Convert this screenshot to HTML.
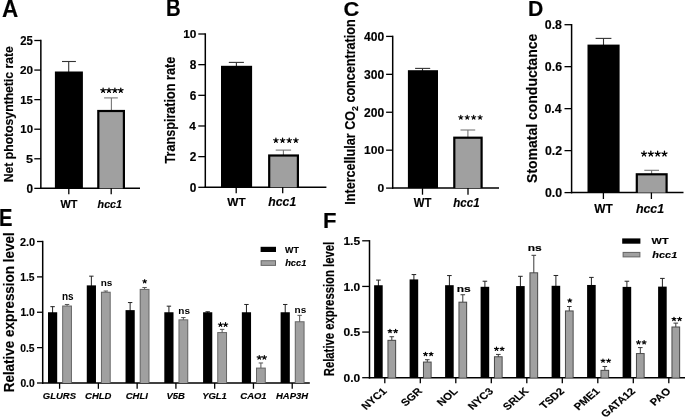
<!DOCTYPE html>
<html><head><meta charset="utf-8"><style>
html,body{margin:0;padding:0;background:#fff;width:685px;height:417px;overflow:hidden}
svg{display:block;will-change:transform}
text{font-family:"Liberation Sans", sans-serif;stroke:#000;stroke-width:0.15px}
</style></head><body>
<svg width="685" height="417" viewBox="0 0 685 417">
<rect x="0" y="0" width="685" height="417" fill="#fff"/>
<text transform="translate(2.04 16.50) scale(0.967 1)" font-size="23.27" font-weight="bold" fill="#000">A</text>
<line x1="40.85" y1="39.80" x2="40.85" y2="189.05" stroke="#000" stroke-width="1.5"/>
<line x1="40.15" y1="188.35" x2="140.00" y2="188.35" stroke="#000" stroke-width="1.5"/>
<line x1="34.30" y1="188.35" x2="40.85" y2="188.35" stroke="#000" stroke-width="1.3"/>
<text transform="translate(26.49 192.69) scale(0.969 1)" font-size="12.16" font-weight="bold" fill="#000">0</text>
<line x1="34.30" y1="158.78" x2="40.85" y2="158.78" stroke="#000" stroke-width="1.3"/>
<text transform="translate(25.92 163.06) scale(1.142 1)" font-size="11.01" font-weight="bold" fill="#000">5</text>
<line x1="34.30" y1="129.21" x2="40.85" y2="129.21" stroke="#000" stroke-width="1.3"/>
<text transform="translate(20.37 132.91) scale(1.074 1)" font-size="10.59" font-weight="bold" fill="#000">10</text>
<line x1="34.30" y1="99.64" x2="40.85" y2="99.64" stroke="#000" stroke-width="1.3"/>
<text transform="translate(20.22 103.84) scale(1.034 1)" font-size="11.01" font-weight="bold" fill="#000">15</text>
<line x1="34.30" y1="70.07" x2="40.85" y2="70.07" stroke="#000" stroke-width="1.3"/>
<text transform="translate(19.99 73.77) scale(1.108 1)" font-size="10.59" font-weight="bold" fill="#000">20</text>
<line x1="34.30" y1="40.50" x2="40.85" y2="40.50" stroke="#000" stroke-width="1.3"/>
<text transform="translate(20.23 44.60) scale(0.932 1)" font-size="12.20" font-weight="bold" fill="#000">25</text>
<line x1="68.70" y1="61.50" x2="68.70" y2="72.50" stroke="#333" stroke-width="1.1"/>
<line x1="62.00" y1="61.50" x2="75.90" y2="61.50" stroke="#333" stroke-width="1.1"/>
<rect x="54.90" y="71.50" width="28.00" height="116.85" fill="#000"/>
<line x1="68.80" y1="188.35" x2="68.80" y2="194.30" stroke="#000" stroke-width="1.3"/>
<text transform="translate(60.49 207.88) scale(1.070 1)" font-size="10.23" font-weight="bold" fill="#000">WT</text>
<line x1="111.40" y1="97.90" x2="111.40" y2="110.90" stroke="#777" stroke-width="1.1"/>
<line x1="104.10" y1="97.90" x2="117.80" y2="97.90" stroke="#777" stroke-width="1.1"/>
<rect x="97.20" y="109.90" width="27.80" height="78.45" fill="#000"/>
<rect x="99.40" y="112.10" width="23.40" height="76.25" fill="#a0a0a0"/>
<path d="M103.11 90.43L103.11 88.02M103.11 90.43L105.41 89.68M103.11 90.43L104.53 92.38M103.11 90.43L101.69 92.38M103.11 90.43L100.82 89.68M109.00 90.43L109.00 88.02M109.00 90.43L111.30 89.68M109.00 90.43L110.42 92.38M109.00 90.43L107.58 92.38M109.00 90.43L106.71 89.68M114.90 90.43L114.90 88.02M114.90 90.43L117.19 89.68M114.90 90.43L116.32 92.38M114.90 90.43L113.48 92.38M114.90 90.43L112.60 89.68M120.79 90.43L120.79 88.02M120.79 90.43L123.08 89.68M120.79 90.43L122.21 92.38M120.79 90.43L119.37 92.38M120.79 90.43L118.49 89.68" stroke="#000" stroke-width="1.23" stroke-linecap="round" stroke-linejoin="round" fill="none"/>
<line x1="111.20" y1="188.35" x2="111.20" y2="194.30" stroke="#000" stroke-width="1.3"/>
<text transform="translate(97.62 207.78) scale(1.048 1)" font-size="10.24" font-weight="bold" font-style="italic" fill="#000">hcc1</text>
<text transform="translate(12.90 182.22) scale(1.072 1) rotate(-90)" font-size="12.20" font-weight="bold">Net photosynthetic rate</text>
<text transform="translate(166.04 15.70) scale(0.859 1)" font-size="23.66" font-weight="bold" fill="#000">B</text>
<line x1="205.30" y1="33.30" x2="205.30" y2="188.00" stroke="#000" stroke-width="1.5"/>
<line x1="204.60" y1="187.30" x2="326.40" y2="187.30" stroke="#000" stroke-width="1.5"/>
<line x1="198.30" y1="187.30" x2="205.30" y2="187.30" stroke="#000" stroke-width="1.3"/>
<text transform="translate(189.78 191.80) scale(0.987 1)" font-size="12.03" font-weight="bold" fill="#000">0</text>
<line x1="198.30" y1="156.64" x2="205.30" y2="156.64" stroke="#000" stroke-width="1.3"/>
<text transform="translate(189.77 160.54) scale(0.965 1)" font-size="12.31" font-weight="bold" fill="#000">2</text>
<line x1="198.30" y1="125.98" x2="205.30" y2="125.98" stroke="#000" stroke-width="1.3"/>
<text transform="translate(189.36 129.88) scale(1.048 1)" font-size="11.34" font-weight="bold" fill="#000">4</text>
<line x1="198.30" y1="95.32" x2="205.30" y2="95.32" stroke="#000" stroke-width="1.3"/>
<text transform="translate(189.72 99.85) scale(0.984 1)" font-size="12.07" font-weight="bold" fill="#000">6</text>
<line x1="198.30" y1="64.66" x2="205.30" y2="64.66" stroke="#000" stroke-width="1.3"/>
<text transform="translate(189.66 69.02) scale(0.960 1)" font-size="12.37" font-weight="bold" fill="#000">8</text>
<line x1="198.30" y1="34.00" x2="205.30" y2="34.00" stroke="#000" stroke-width="1.3"/>
<text transform="translate(183.17 37.79) scale(1.078 1)" font-size="11.02" font-weight="bold" fill="#000">10</text>
<line x1="236.40" y1="62.40" x2="236.40" y2="66.80" stroke="#333" stroke-width="1.1"/>
<line x1="228.80" y1="62.40" x2="243.90" y2="62.40" stroke="#333" stroke-width="1.1"/>
<rect x="221.00" y="65.80" width="31.10" height="121.50" fill="#000"/>
<line x1="236.20" y1="187.30" x2="236.20" y2="193.20" stroke="#000" stroke-width="1.3"/>
<text transform="translate(227.27 205.50) scale(1.098 1)" font-size="10.76" font-weight="bold" fill="#000">WT</text>
<line x1="283.40" y1="150.10" x2="283.40" y2="155.40" stroke="#777" stroke-width="1.1"/>
<line x1="275.70" y1="150.10" x2="291.10" y2="150.10" stroke="#777" stroke-width="1.1"/>
<rect x="268.10" y="154.40" width="30.90" height="32.90" fill="#000"/>
<rect x="270.30" y="156.60" width="26.50" height="30.70" fill="#a0a0a0"/>
<path d="M275.91 140.42L275.91 138.09M275.91 140.42L278.12 139.70M275.91 140.42L277.28 142.31M275.91 140.42L274.54 142.31M275.91 140.42L273.69 139.70M282.57 140.42L282.57 138.09M282.57 140.42L284.78 139.70M282.57 140.42L283.94 142.31M282.57 140.42L281.20 142.31M282.57 140.42L280.36 139.70M289.23 140.42L289.23 138.09M289.23 140.42L291.44 139.70M289.23 140.42L290.60 142.31M289.23 140.42L287.86 142.31M289.23 140.42L287.02 139.70M295.89 140.42L295.89 138.09M295.89 140.42L298.11 139.70M295.89 140.42L297.26 142.31M295.89 140.42L294.52 142.31M295.89 140.42L293.68 139.70" stroke="#000" stroke-width="1.19" stroke-linecap="round" stroke-linejoin="round" fill="none"/>
<line x1="282.70" y1="187.30" x2="282.70" y2="193.20" stroke="#000" stroke-width="1.3"/>
<text transform="translate(268.29 205.92) scale(1.004 1)" font-size="12.20" font-weight="bold" font-style="italic" fill="#000">hcc1</text>
<text transform="translate(175.00 163.54) scale(1.149 1) rotate(-90)" font-size="12.65" font-weight="bold">Transpiration rate</text>
<text transform="translate(343.40 15.73) scale(1.097 1)" font-size="19.94" font-weight="bold" fill="#000">C</text>
<line x1="392.70" y1="35.70" x2="392.70" y2="188.80" stroke="#000" stroke-width="1.5"/>
<line x1="392.00" y1="188.10" x2="499.00" y2="188.10" stroke="#000" stroke-width="1.5"/>
<line x1="386.10" y1="188.10" x2="392.70" y2="188.10" stroke="#000" stroke-width="1.3"/>
<text transform="translate(377.47 191.89) scale(1.113 1)" font-size="10.88" font-weight="bold" fill="#000">0</text>
<line x1="386.10" y1="150.18" x2="392.70" y2="150.18" stroke="#000" stroke-width="1.3"/>
<text transform="translate(364.01 153.97) scale(1.113 1)" font-size="10.88" font-weight="bold" fill="#000">100</text>
<line x1="386.10" y1="112.25" x2="392.70" y2="112.25" stroke="#000" stroke-width="1.3"/>
<text transform="translate(364.01 116.69) scale(0.959 1)" font-size="12.61" font-weight="bold" fill="#000">200</text>
<line x1="386.10" y1="74.33" x2="392.70" y2="74.33" stroke="#000" stroke-width="1.3"/>
<text transform="translate(364.01 78.84) scale(1.016 1)" font-size="11.91" font-weight="bold" fill="#000">300</text>
<line x1="386.10" y1="36.40" x2="392.70" y2="36.40" stroke="#000" stroke-width="1.3"/>
<text transform="translate(364.01 40.60) scale(0.996 1)" font-size="12.15" font-weight="bold" fill="#000">400</text>
<line x1="422.50" y1="68.40" x2="422.50" y2="71.20" stroke="#333" stroke-width="1.1"/>
<line x1="415.10" y1="68.40" x2="430.20" y2="68.40" stroke="#333" stroke-width="1.1"/>
<rect x="407.90" y="70.20" width="30.10" height="117.90" fill="#000"/>
<line x1="422.50" y1="188.10" x2="422.50" y2="194.70" stroke="#000" stroke-width="1.3"/>
<text transform="translate(413.79 206.50) scale(0.940 1)" font-size="12.06" font-weight="bold" fill="#000">WT</text>
<line x1="467.90" y1="130.00" x2="467.90" y2="137.60" stroke="#777" stroke-width="1.1"/>
<line x1="460.50" y1="130.00" x2="475.20" y2="130.00" stroke="#777" stroke-width="1.1"/>
<rect x="453.20" y="136.60" width="29.50" height="51.50" fill="#000"/>
<rect x="455.40" y="138.80" width="25.10" height="49.30" fill="#a0a0a0"/>
<path d="M460.80 117.41L460.80 115.25M460.80 117.41L462.85 116.74M460.80 117.41L462.07 119.15M460.80 117.41L459.53 119.15M460.80 117.41L458.75 116.74M467.23 117.41L467.23 115.25M467.23 117.41L469.28 116.74M467.23 117.41L468.50 119.15M467.23 117.41L465.97 119.15M467.23 117.41L465.18 116.74M473.67 117.41L473.67 115.25M473.67 117.41L475.72 116.74M473.67 117.41L474.93 119.15M473.67 117.41L472.40 119.15M473.67 117.41L471.62 116.74M480.10 117.41L480.10 115.25M480.10 117.41L482.15 116.74M480.10 117.41L481.37 119.15M480.10 117.41L478.83 119.15M480.10 117.41L478.05 116.74" stroke="#000" stroke-width="1.10" stroke-linecap="round" stroke-linejoin="round" fill="none"/>
<line x1="468.00" y1="188.10" x2="468.00" y2="194.70" stroke="#000" stroke-width="1.3"/>
<text transform="translate(453.30 206.83) scale(0.969 1)" font-size="11.91" font-weight="bold" font-style="italic" fill="#000">hcc1</text>
<text transform="translate(354.7 204.74) scale(1.1 1) rotate(-90)" font-size="12.6" font-weight="bold">Intercellular CO<tspan font-size="8.82" dy="3.15">2</tspan><tspan dy="-3.15"> concentration</tspan></text>
<text transform="translate(527.98 16.00) scale(0.980 1)" font-size="21.63" font-weight="bold" fill="#000">D</text>
<line x1="571.60" y1="24.00" x2="571.60" y2="193.30" stroke="#000" stroke-width="1.5"/>
<line x1="570.90" y1="192.60" x2="683.50" y2="192.60" stroke="#000" stroke-width="1.5"/>
<line x1="564.50" y1="192.60" x2="571.60" y2="192.60" stroke="#000" stroke-width="1.3"/>
<text transform="translate(544.92 196.88) scale(1.018 1)" font-size="12.15" font-weight="bold" fill="#000">0.0</text>
<line x1="564.50" y1="150.62" x2="571.60" y2="150.62" stroke="#000" stroke-width="1.3"/>
<text transform="translate(544.91 154.91) scale(1.018 1)" font-size="12.15" font-weight="bold" fill="#000">0.2</text>
<line x1="564.50" y1="108.65" x2="571.60" y2="108.65" stroke="#000" stroke-width="1.3"/>
<text transform="translate(544.48 112.93) scale(1.018 1)" font-size="12.15" font-weight="bold" fill="#000">0.4</text>
<line x1="564.50" y1="66.67" x2="571.60" y2="66.67" stroke="#000" stroke-width="1.3"/>
<text transform="translate(544.86 70.96) scale(1.018 1)" font-size="12.15" font-weight="bold" fill="#000">0.6</text>
<line x1="564.50" y1="24.70" x2="571.60" y2="24.70" stroke="#000" stroke-width="1.3"/>
<text transform="translate(544.80 28.98) scale(1.018 1)" font-size="12.15" font-weight="bold" fill="#000">0.8</text>
<line x1="603.50" y1="38.40" x2="603.50" y2="45.60" stroke="#333" stroke-width="1.1"/>
<line x1="595.60" y1="38.40" x2="611.40" y2="38.40" stroke="#333" stroke-width="1.1"/>
<rect x="587.50" y="44.60" width="32.10" height="148.00" fill="#000"/>
<line x1="603.40" y1="192.60" x2="603.40" y2="199.00" stroke="#000" stroke-width="1.3"/>
<text transform="translate(594.19 212.90) scale(1.001 1)" font-size="11.92" font-weight="bold" fill="#000">WT</text>
<line x1="651.60" y1="170.30" x2="651.60" y2="174.20" stroke="#777" stroke-width="1.1"/>
<line x1="644.30" y1="170.30" x2="659.00" y2="170.30" stroke="#777" stroke-width="1.1"/>
<rect x="635.70" y="173.20" width="32.00" height="19.40" fill="#000"/>
<rect x="637.90" y="175.40" width="27.60" height="17.20" fill="#a0a0a0"/>
<path d="M644.02 153.85L644.02 151.26M644.02 153.85L646.48 153.05M644.02 153.85L645.54 155.94M644.02 153.85L642.50 155.94M644.02 153.85L641.56 153.05M650.84 153.85L650.84 151.26M650.84 153.85L653.30 153.05M650.84 153.85L652.36 155.94M650.84 153.85L649.32 155.94M650.84 153.85L648.38 153.05M657.66 153.85L657.66 151.26M657.66 153.85L660.12 153.05M657.66 153.85L659.18 155.94M657.66 153.85L656.14 155.94M657.66 153.85L655.20 153.05M664.48 153.85L664.48 151.26M664.48 153.85L666.94 153.05M664.48 153.85L666.00 155.94M664.48 153.85L662.96 155.94M664.48 153.85L662.02 153.05" stroke="#000" stroke-width="1.32" stroke-linecap="round" stroke-linejoin="round" fill="none"/>
<line x1="651.40" y1="192.60" x2="651.40" y2="199.00" stroke="#000" stroke-width="1.3"/>
<text transform="translate(635.89 212.78) scale(1.001 1)" font-size="12.39" font-weight="bold" font-style="italic" fill="#000">hcc1</text>
<text transform="translate(537.20 182.90) scale(1.112 1) rotate(-90)" font-size="13.99" font-weight="bold">Stomatal conductance</text>
<text transform="translate(-1.07 225.50) scale(0.875 1)" font-size="23.07" font-weight="bold" fill="#000">E</text>
<line x1="42.70" y1="240.80" x2="42.70" y2="383.80" stroke="#000" stroke-width="1.5"/>
<line x1="42.00" y1="383.00" x2="309.80" y2="383.00" stroke="#000" stroke-width="1.65"/>
<line x1="37.00" y1="383.00" x2="42.70" y2="383.00" stroke="#000" stroke-width="1.3"/>
<text transform="translate(20.40 386.80) scale(0.985 1)" font-size="10.45" font-weight="bold" fill="#000">0.0</text>
<line x1="37.00" y1="347.62" x2="42.70" y2="347.62" stroke="#000" stroke-width="1.3"/>
<text transform="translate(20.27 351.88) scale(0.972 1)" font-size="10.59" font-weight="bold" fill="#000">0.5</text>
<line x1="37.00" y1="312.25" x2="42.70" y2="312.25" stroke="#000" stroke-width="1.3"/>
<text transform="translate(20.40 316.05) scale(0.985 1)" font-size="10.45" font-weight="bold" fill="#000">1.0</text>
<line x1="37.00" y1="276.88" x2="42.70" y2="276.88" stroke="#000" stroke-width="1.3"/>
<text transform="translate(20.27 280.67) scale(0.971 1)" font-size="10.61" font-weight="bold" fill="#000">1.5</text>
<line x1="37.00" y1="241.50" x2="42.70" y2="241.50" stroke="#000" stroke-width="1.3"/>
<text transform="translate(20.00 245.78) scale(1.027 1)" font-size="10.62" font-weight="bold" fill="#000">2.0</text>
<line x1="52.60" y1="306.66" x2="52.60" y2="313.25" stroke="#222" stroke-width="1.0"/>
<line x1="50.40" y1="306.66" x2="54.80" y2="306.66" stroke="#222" stroke-width="1.0"/>
<rect x="48.00" y="312.25" width="9.20" height="70.75" fill="#000"/>
<line x1="67.05" y1="304.47" x2="67.05" y2="306.53" stroke="#555" stroke-width="1.0"/>
<line x1="64.85" y1="304.47" x2="69.25" y2="304.47" stroke="#555" stroke-width="1.0"/>
<rect x="62.15" y="305.53" width="9.80" height="77.47" fill="#666"/>
<rect x="63.15" y="306.53" width="7.80" height="76.47" fill="#a0a0a0"/>
<text transform="translate(61.99 299.69) scale(0.929 1)" font-size="10.76" font-weight="bold" fill="#000" style="stroke:none">ns</text>
<line x1="59.60" y1="383.00" x2="59.60" y2="388.80" stroke="#000" stroke-width="1.3"/>
<text transform="translate(42.81 399.20) scale(0.974 1)" font-size="9.75" font-weight="bold" font-style="italic" fill="#000">GLURS</text>
<line x1="91.37" y1="276.17" x2="91.37" y2="286.37" stroke="#222" stroke-width="1.0"/>
<line x1="89.17" y1="276.17" x2="93.57" y2="276.17" stroke="#222" stroke-width="1.0"/>
<rect x="86.77" y="285.37" width="9.20" height="97.63" fill="#000"/>
<line x1="105.82" y1="291.02" x2="105.82" y2="292.73" stroke="#555" stroke-width="1.0"/>
<line x1="103.62" y1="291.02" x2="108.02" y2="291.02" stroke="#555" stroke-width="1.0"/>
<rect x="100.92" y="291.73" width="9.80" height="91.27" fill="#666"/>
<rect x="101.92" y="292.73" width="7.80" height="90.27" fill="#a0a0a0"/>
<text transform="translate(100.76 286.41) scale(1.097 1)" font-size="9.12" font-weight="bold" fill="#000" style="stroke:none">ns</text>
<line x1="98.37" y1="383.00" x2="98.37" y2="388.80" stroke="#000" stroke-width="1.3"/>
<text transform="translate(85.09 399.20) scale(0.974 1)" font-size="9.75" font-weight="bold" font-style="italic" fill="#000">CHLD</text>
<line x1="130.14" y1="302.56" x2="130.14" y2="311.13" stroke="#222" stroke-width="1.0"/>
<line x1="127.94" y1="302.56" x2="132.34" y2="302.56" stroke="#222" stroke-width="1.0"/>
<rect x="125.54" y="310.13" width="9.20" height="72.87" fill="#000"/>
<line x1="144.59" y1="287.49" x2="144.59" y2="289.90" stroke="#555" stroke-width="1.0"/>
<line x1="142.39" y1="287.49" x2="146.79" y2="287.49" stroke="#555" stroke-width="1.0"/>
<rect x="139.69" y="288.90" width="9.80" height="94.10" fill="#666"/>
<rect x="140.69" y="289.90" width="7.80" height="93.10" fill="#a0a0a0"/>
<path d="M144.69 281.38L144.69 279.53M144.69 281.38L146.62 280.81M144.69 281.38L145.89 282.87M144.69 281.38L143.49 282.87M144.69 281.38L142.76 280.81" stroke="#000" stroke-width="1.06" stroke-linecap="round" stroke-linejoin="round" fill="none"/>
<line x1="137.14" y1="383.00" x2="137.14" y2="388.80" stroke="#000" stroke-width="1.3"/>
<text transform="translate(125.75 399.20) scale(0.974 1)" font-size="9.75" font-weight="bold" font-style="italic" fill="#000">CHLI</text>
<line x1="168.91" y1="306.17" x2="168.91" y2="313.25" stroke="#222" stroke-width="1.0"/>
<line x1="166.71" y1="306.17" x2="171.11" y2="306.17" stroke="#222" stroke-width="1.0"/>
<rect x="164.31" y="312.25" width="9.20" height="70.75" fill="#000"/>
<line x1="183.36" y1="317.56" x2="183.36" y2="320.32" stroke="#555" stroke-width="1.0"/>
<line x1="181.16" y1="317.56" x2="185.56" y2="317.56" stroke="#555" stroke-width="1.0"/>
<rect x="178.46" y="319.32" width="9.80" height="63.68" fill="#666"/>
<rect x="179.46" y="320.32" width="7.80" height="62.68" fill="#a0a0a0"/>
<text transform="translate(178.30 313.61) scale(1.097 1)" font-size="9.12" font-weight="bold" fill="#000" style="stroke:none">ns</text>
<line x1="175.91" y1="383.00" x2="175.91" y2="388.80" stroke="#000" stroke-width="1.3"/>
<text transform="translate(166.46 399.20) scale(0.960 1)" font-size="9.89" font-weight="bold" font-style="italic" fill="#000">V5B</text>
<line x1="207.68" y1="311.75" x2="207.68" y2="313.25" stroke="#222" stroke-width="1.0"/>
<line x1="205.48" y1="311.75" x2="209.88" y2="311.75" stroke="#222" stroke-width="1.0"/>
<rect x="203.08" y="312.25" width="9.20" height="70.75" fill="#000"/>
<line x1="222.13" y1="329.37" x2="222.13" y2="333.06" stroke="#555" stroke-width="1.0"/>
<line x1="219.93" y1="329.37" x2="224.33" y2="329.37" stroke="#555" stroke-width="1.0"/>
<rect x="217.23" y="332.06" width="9.80" height="50.94" fill="#666"/>
<rect x="218.23" y="333.06" width="7.80" height="49.94" fill="#a0a0a0"/>
<path d="M220.47 324.69L220.47 322.68M220.47 324.69L222.58 324.07M220.47 324.69L221.77 326.32M220.47 324.69L219.16 326.32M220.47 324.69L218.36 324.07M225.59 324.69L225.59 322.68M225.59 324.69L227.70 324.07M225.59 324.69L226.90 326.32M225.59 324.69L224.29 326.32M225.59 324.69L223.48 324.07" stroke="#000" stroke-width="1.15" stroke-linecap="round" stroke-linejoin="round" fill="none"/>
<line x1="214.68" y1="383.00" x2="214.68" y2="388.80" stroke="#000" stroke-width="1.3"/>
<text transform="translate(202.14 399.21) scale(0.973 1)" font-size="9.75" font-weight="bold" font-style="italic" fill="#000">YGL1</text>
<line x1="246.45" y1="304.47" x2="246.45" y2="313.25" stroke="#222" stroke-width="1.0"/>
<line x1="244.25" y1="304.47" x2="248.65" y2="304.47" stroke="#222" stroke-width="1.0"/>
<rect x="241.85" y="312.25" width="9.20" height="70.75" fill="#000"/>
<line x1="260.90" y1="362.98" x2="260.90" y2="368.58" stroke="#555" stroke-width="1.0"/>
<line x1="258.70" y1="362.98" x2="263.10" y2="362.98" stroke="#555" stroke-width="1.0"/>
<rect x="256.00" y="367.58" width="9.80" height="15.42" fill="#666"/>
<rect x="257.00" y="368.58" width="7.80" height="14.42" fill="#a0a0a0"/>
<path d="M259.24 357.49L259.24 355.48M259.24 357.49L261.35 356.87M259.24 357.49L260.54 359.12M259.24 357.49L257.93 359.12M259.24 357.49L257.13 356.87M264.36 357.49L264.36 355.48M264.36 357.49L266.47 356.87M264.36 357.49L265.67 359.12M264.36 357.49L263.06 359.12M264.36 357.49L262.25 356.87" stroke="#000" stroke-width="1.15" stroke-linecap="round" stroke-linejoin="round" fill="none"/>
<line x1="253.45" y1="383.00" x2="253.45" y2="388.80" stroke="#000" stroke-width="1.3"/>
<text transform="translate(240.29 399.20) scale(0.974 1)" font-size="9.75" font-weight="bold" font-style="italic" fill="#000">CAO1</text>
<line x1="285.22" y1="304.47" x2="285.22" y2="313.25" stroke="#222" stroke-width="1.0"/>
<line x1="283.02" y1="304.47" x2="287.42" y2="304.47" stroke="#222" stroke-width="1.0"/>
<rect x="280.62" y="312.25" width="9.20" height="70.75" fill="#000"/>
<line x1="299.67" y1="315.36" x2="299.67" y2="322.24" stroke="#555" stroke-width="1.0"/>
<line x1="297.47" y1="315.36" x2="301.87" y2="315.36" stroke="#555" stroke-width="1.0"/>
<rect x="294.77" y="321.24" width="9.80" height="61.76" fill="#666"/>
<rect x="295.77" y="322.24" width="7.80" height="60.76" fill="#a0a0a0"/>
<text transform="translate(294.61 312.81) scale(1.097 1)" font-size="9.12" font-weight="bold" fill="#000" style="stroke:none">ns</text>
<line x1="292.22" y1="383.00" x2="292.22" y2="388.80" stroke="#000" stroke-width="1.3"/>
<text transform="translate(275.97 399.20) scale(0.974 1)" font-size="9.75" font-weight="bold" font-style="italic" fill="#000">HAP3H</text>
<text transform="translate(14.10 392.30) scale(1.123 1) rotate(-90)" font-size="13.45" font-weight="bold">Relative expression level</text>
<rect x="260.60" y="246.80" width="15.40" height="5.20" fill="#000"/>
<rect x="260.60" y="260.20" width="15.40" height="5.70" fill="#666"/>
<rect x="261.60" y="261.20" width="13.40" height="3.70" fill="#a0a0a0"/>
<text transform="translate(284.99 252.60) scale(0.948 1)" font-size="9.43" font-weight="bold" fill="#000">WT</text>
<text transform="translate(285.14 266.31) scale(0.969 1)" font-size="9.67" font-weight="bold" font-style="italic" fill="#000">hcc1</text>
<text transform="translate(322.92 227.90) scale(1.028 1)" font-size="21.48" font-weight="bold" fill="#000">F</text>
<line x1="369.50" y1="240.10" x2="369.50" y2="378.50" stroke="#000" stroke-width="1.5"/>
<line x1="368.80" y1="377.70" x2="685.00" y2="377.70" stroke="#000" stroke-width="1.65"/>
<line x1="362.20" y1="377.70" x2="369.50" y2="377.70" stroke="#000" stroke-width="1.3"/>
<text transform="translate(343.61 381.84) scale(1.055 1)" font-size="11.37" font-weight="bold" fill="#000">0.0</text>
<line x1="362.20" y1="332.07" x2="369.50" y2="332.07" stroke="#000" stroke-width="1.3"/>
<text transform="translate(343.45 335.77) scale(1.197 1)" font-size="10.03" font-weight="bold" fill="#000">0.5</text>
<line x1="362.20" y1="286.43" x2="369.50" y2="286.43" stroke="#000" stroke-width="1.3"/>
<text transform="translate(343.61 290.76) scale(1.062 1)" font-size="11.30" font-weight="bold" fill="#000">1.0</text>
<line x1="362.20" y1="240.80" x2="369.50" y2="240.80" stroke="#000" stroke-width="1.3"/>
<text transform="translate(343.45 244.50) scale(1.179 1)" font-size="10.18" font-weight="bold" fill="#000">1.5</text>
<line x1="378.40" y1="280.09" x2="378.40" y2="286.25" stroke="#222" stroke-width="1.0"/>
<line x1="376.10" y1="280.09" x2="380.70" y2="280.09" stroke="#222" stroke-width="1.0"/>
<rect x="374.10" y="285.25" width="8.60" height="92.45" fill="#000"/>
<line x1="391.80" y1="336.72" x2="391.80" y2="340.82" stroke="#3a3a3a" stroke-width="1.0"/>
<line x1="389.50" y1="336.72" x2="394.10" y2="336.72" stroke="#3a3a3a" stroke-width="1.0"/>
<rect x="387.45" y="339.82" width="8.70" height="37.88" fill="#4a4a4a"/>
<rect x="388.45" y="340.82" width="6.70" height="36.88" fill="#a0a0a0"/>
<path d="M389.98 331.17L389.98 329.42M389.98 331.17L391.90 330.63M389.98 331.17L391.17 332.58M389.98 331.17L388.80 332.58M389.98 331.17L388.07 330.63M395.62 331.17L395.62 329.42M395.62 331.17L397.53 330.63M395.62 331.17L396.80 332.58M395.62 331.17L394.43 332.58M395.62 331.17L393.70 330.63" stroke="#000" stroke-width="1.23" stroke-linecap="round" stroke-linejoin="round" fill="none"/>
<line x1="384.80" y1="377.70" x2="384.80" y2="383.20" stroke="#000" stroke-width="1.3"/>
<text transform="translate(387.40 391.80) scale(1.16 1) rotate(-45)" font-size="9.8" font-weight="bold" text-anchor="end">NYC1</text>
<line x1="413.90" y1="274.57" x2="413.90" y2="280.41" stroke="#222" stroke-width="1.0"/>
<line x1="411.60" y1="274.57" x2="416.20" y2="274.57" stroke="#222" stroke-width="1.0"/>
<rect x="409.60" y="279.41" width="8.60" height="98.29" fill="#000"/>
<line x1="427.30" y1="359.72" x2="427.30" y2="362.55" stroke="#3a3a3a" stroke-width="1.0"/>
<line x1="425.00" y1="359.72" x2="429.60" y2="359.72" stroke="#3a3a3a" stroke-width="1.0"/>
<rect x="422.95" y="361.55" width="8.70" height="16.15" fill="#4a4a4a"/>
<rect x="423.95" y="362.55" width="6.70" height="15.15" fill="#a0a0a0"/>
<path d="M425.48 354.07L425.48 352.32M425.48 354.07L427.40 353.53M425.48 354.07L426.67 355.48M425.48 354.07L424.30 355.48M425.48 354.07L423.57 353.53M431.12 354.07L431.12 352.32M431.12 354.07L433.03 353.53M431.12 354.07L432.30 355.48M431.12 354.07L429.93 355.48M431.12 354.07L429.20 353.53" stroke="#000" stroke-width="1.23" stroke-linecap="round" stroke-linejoin="round" fill="none"/>
<line x1="420.30" y1="377.70" x2="420.30" y2="383.20" stroke="#000" stroke-width="1.3"/>
<text transform="translate(422.90 391.80) scale(1.16 1) rotate(-45)" font-size="9.8" font-weight="bold" text-anchor="end">SGR</text>
<line x1="449.40" y1="275.57" x2="449.40" y2="286.20" stroke="#222" stroke-width="1.0"/>
<line x1="447.10" y1="275.57" x2="451.70" y2="275.57" stroke="#222" stroke-width="1.0"/>
<rect x="445.10" y="285.20" width="8.60" height="92.50" fill="#000"/>
<line x1="462.80" y1="294.74" x2="462.80" y2="302.67" stroke="#3a3a3a" stroke-width="1.0"/>
<line x1="460.50" y1="294.74" x2="465.10" y2="294.74" stroke="#3a3a3a" stroke-width="1.0"/>
<rect x="458.45" y="301.67" width="8.70" height="76.03" fill="#4a4a4a"/>
<rect x="459.45" y="302.67" width="6.70" height="75.03" fill="#a0a0a0"/>
<text transform="translate(456.66 291.91) scale(1.314 1)" font-size="9.12" font-weight="bold" fill="#000">ns</text>
<line x1="455.80" y1="377.70" x2="455.80" y2="383.20" stroke="#000" stroke-width="1.3"/>
<text transform="translate(458.40 391.80) scale(1.16 1) rotate(-45)" font-size="9.8" font-weight="bold" text-anchor="end">NOL</text>
<line x1="484.90" y1="281.23" x2="484.90" y2="287.80" stroke="#222" stroke-width="1.0"/>
<line x1="482.60" y1="281.23" x2="487.20" y2="281.23" stroke="#222" stroke-width="1.0"/>
<rect x="480.60" y="286.80" width="8.60" height="90.90" fill="#000"/>
<line x1="498.30" y1="354.43" x2="498.30" y2="357.25" stroke="#3a3a3a" stroke-width="1.0"/>
<line x1="496.00" y1="354.43" x2="500.60" y2="354.43" stroke="#3a3a3a" stroke-width="1.0"/>
<rect x="493.95" y="356.25" width="8.70" height="21.45" fill="#4a4a4a"/>
<rect x="494.95" y="357.25" width="6.70" height="20.45" fill="#a0a0a0"/>
<path d="M496.48 348.97L496.48 347.22M496.48 348.97L498.40 348.43M496.48 348.97L497.67 350.38M496.48 348.97L495.30 350.38M496.48 348.97L494.57 348.43M502.12 348.97L502.12 347.22M502.12 348.97L504.03 348.43M502.12 348.97L503.30 350.38M502.12 348.97L500.93 350.38M502.12 348.97L500.20 348.43" stroke="#000" stroke-width="1.23" stroke-linecap="round" stroke-linejoin="round" fill="none"/>
<line x1="491.30" y1="377.70" x2="491.30" y2="383.20" stroke="#000" stroke-width="1.3"/>
<text transform="translate(493.90 391.80) scale(1.16 1) rotate(-45)" font-size="9.8" font-weight="bold" text-anchor="end">NYC3</text>
<line x1="520.40" y1="276.30" x2="520.40" y2="287.07" stroke="#222" stroke-width="1.0"/>
<line x1="518.10" y1="276.30" x2="522.70" y2="276.30" stroke="#222" stroke-width="1.0"/>
<rect x="516.10" y="286.07" width="8.60" height="91.63" fill="#000"/>
<line x1="533.80" y1="255.31" x2="533.80" y2="273.29" stroke="#3a3a3a" stroke-width="1.0"/>
<line x1="531.50" y1="255.31" x2="536.10" y2="255.31" stroke="#3a3a3a" stroke-width="1.0"/>
<rect x="529.45" y="272.29" width="8.70" height="105.41" fill="#4a4a4a"/>
<rect x="530.45" y="273.29" width="6.70" height="104.41" fill="#a0a0a0"/>
<text transform="translate(527.66 250.91) scale(1.314 1)" font-size="9.12" font-weight="bold" fill="#000">ns</text>
<line x1="526.80" y1="377.70" x2="526.80" y2="383.20" stroke="#000" stroke-width="1.3"/>
<text transform="translate(529.40 391.80) scale(1.16 1) rotate(-45)" font-size="9.8" font-weight="bold" text-anchor="end">SRLK</text>
<line x1="555.90" y1="275.48" x2="555.90" y2="286.79" stroke="#222" stroke-width="1.0"/>
<line x1="553.60" y1="275.48" x2="558.20" y2="275.48" stroke="#222" stroke-width="1.0"/>
<rect x="551.60" y="285.79" width="8.60" height="91.91" fill="#000"/>
<line x1="569.30" y1="306.51" x2="569.30" y2="311.44" stroke="#3a3a3a" stroke-width="1.0"/>
<line x1="567.00" y1="306.51" x2="571.60" y2="306.51" stroke="#3a3a3a" stroke-width="1.0"/>
<rect x="564.95" y="310.44" width="8.70" height="67.26" fill="#4a4a4a"/>
<rect x="565.95" y="311.44" width="6.70" height="66.26" fill="#a0a0a0"/>
<path d="M569.80 300.57L569.80 298.82M569.80 300.57L571.72 300.03M569.80 300.57L570.98 301.98M569.80 300.57L568.62 301.98M569.80 300.57L567.88 300.03" stroke="#000" stroke-width="1.23" stroke-linecap="round" stroke-linejoin="round" fill="none"/>
<line x1="562.30" y1="377.70" x2="562.30" y2="383.20" stroke="#000" stroke-width="1.3"/>
<text transform="translate(564.90 391.80) scale(1.16 1) rotate(-45)" font-size="9.8" font-weight="bold" text-anchor="end">TSD2</text>
<line x1="591.40" y1="277.40" x2="591.40" y2="285.97" stroke="#222" stroke-width="1.0"/>
<line x1="589.10" y1="277.40" x2="593.70" y2="277.40" stroke="#222" stroke-width="1.0"/>
<rect x="587.10" y="284.97" width="8.60" height="92.73" fill="#000"/>
<line x1="604.80" y1="366.47" x2="604.80" y2="370.85" stroke="#3a3a3a" stroke-width="1.0"/>
<line x1="602.50" y1="366.47" x2="607.10" y2="366.47" stroke="#3a3a3a" stroke-width="1.0"/>
<rect x="600.45" y="369.85" width="8.70" height="7.85" fill="#4a4a4a"/>
<rect x="601.45" y="370.85" width="6.70" height="6.85" fill="#a0a0a0"/>
<path d="M602.98 360.77L602.98 359.02M602.98 360.77L604.90 360.23M602.98 360.77L604.17 362.18M602.98 360.77L601.80 362.18M602.98 360.77L601.07 360.23M608.62 360.77L608.62 359.02M608.62 360.77L610.53 360.23M608.62 360.77L609.80 362.18M608.62 360.77L607.43 362.18M608.62 360.77L606.70 360.23" stroke="#000" stroke-width="1.23" stroke-linecap="round" stroke-linejoin="round" fill="none"/>
<line x1="597.80" y1="377.70" x2="597.80" y2="383.20" stroke="#000" stroke-width="1.3"/>
<text transform="translate(600.40 391.80) scale(1.16 1) rotate(-45)" font-size="9.8" font-weight="bold" text-anchor="end">PME1</text>
<line x1="626.90" y1="281.23" x2="626.90" y2="287.89" stroke="#222" stroke-width="1.0"/>
<line x1="624.60" y1="281.23" x2="629.20" y2="281.23" stroke="#222" stroke-width="1.0"/>
<rect x="622.60" y="286.89" width="8.60" height="90.81" fill="#000"/>
<line x1="640.30" y1="347.58" x2="640.30" y2="354.06" stroke="#3a3a3a" stroke-width="1.0"/>
<line x1="638.00" y1="347.58" x2="642.60" y2="347.58" stroke="#3a3a3a" stroke-width="1.0"/>
<rect x="635.95" y="353.06" width="8.70" height="24.64" fill="#4a4a4a"/>
<rect x="636.95" y="354.06" width="6.70" height="23.64" fill="#a0a0a0"/>
<path d="M638.48 342.47L638.48 340.72M638.48 342.47L640.40 341.93M638.48 342.47L639.67 343.88M638.48 342.47L637.30 343.88M638.48 342.47L636.57 341.93M644.12 342.47L644.12 340.72M644.12 342.47L646.03 341.93M644.12 342.47L645.30 343.88M644.12 342.47L642.93 343.88M644.12 342.47L642.20 341.93" stroke="#000" stroke-width="1.23" stroke-linecap="round" stroke-linejoin="round" fill="none"/>
<line x1="633.30" y1="377.70" x2="633.30" y2="383.20" stroke="#000" stroke-width="1.3"/>
<text transform="translate(635.90 391.80) scale(1.16 1) rotate(-45)" font-size="9.8" font-weight="bold" text-anchor="end">GATA12</text>
<line x1="662.40" y1="278.40" x2="662.40" y2="287.62" stroke="#222" stroke-width="1.0"/>
<line x1="660.10" y1="278.40" x2="664.70" y2="278.40" stroke="#222" stroke-width="1.0"/>
<rect x="658.10" y="286.62" width="8.60" height="91.08" fill="#000"/>
<line x1="675.80" y1="323.12" x2="675.80" y2="327.50" stroke="#3a3a3a" stroke-width="1.0"/>
<line x1="673.50" y1="323.12" x2="678.10" y2="323.12" stroke="#3a3a3a" stroke-width="1.0"/>
<rect x="671.45" y="326.50" width="8.70" height="51.20" fill="#4a4a4a"/>
<rect x="672.45" y="327.50" width="6.70" height="50.20" fill="#a0a0a0"/>
<path d="M673.98 319.07L673.98 317.32M673.98 319.07L675.90 318.53M673.98 319.07L675.17 320.48M673.98 319.07L672.80 320.48M673.98 319.07L672.07 318.53M679.62 319.07L679.62 317.32M679.62 319.07L681.53 318.53M679.62 319.07L680.80 320.48M679.62 319.07L678.43 320.48M679.62 319.07L677.70 318.53" stroke="#000" stroke-width="1.23" stroke-linecap="round" stroke-linejoin="round" fill="none"/>
<line x1="668.80" y1="377.70" x2="668.80" y2="383.20" stroke="#000" stroke-width="1.3"/>
<text transform="translate(671.40 391.80) scale(1.16 1) rotate(-45)" font-size="9.8" font-weight="bold" text-anchor="end">PAO</text>
<text transform="translate(334.30 376.26) scale(1.285 1) rotate(-90)" font-size="11.31" font-weight="bold">Relative expression level</text>
<rect x="622.20" y="238.40" width="18.20" height="5.30" fill="#000"/>
<rect x="622.60" y="251.90" width="17.80" height="5.50" fill="#666"/>
<rect x="623.60" y="252.90" width="15.80" height="3.50" fill="#a0a0a0"/>
<text transform="translate(651.59 243.90) scale(1.269 1)" font-size="8.63" font-weight="bold" fill="#000">WT</text>
<text transform="translate(652.31 257.63) scale(1.219 1)" font-size="8.99" font-weight="bold" font-style="italic" fill="#000">hcc1</text>
</svg>
</body></html>
